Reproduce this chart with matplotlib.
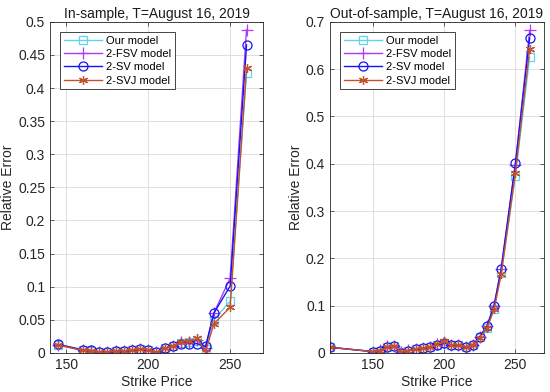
import matplotlib
matplotlib.use("Agg")
import matplotlib.pyplot as plt
from matplotlib.ticker import FuncFormatter

plt.rcParams['font.family'] = ['Liberation Sans', 'DejaVu Sans']

# --------------------------------------------------------
# Data
# --------------------------------------------------------
labels = ["Our model", "2-FSV model", "2-SV model", "2-SVJ model"]

strike_in = [145, 160, 165, 170, 175, 180, 185, 190, 195, 200,
             205, 210, 215, 220, 225, 230, 235, 240, 250, 260]
in_ours = [0.012, 0.004, 0.003, 0.001, 0.001, 0.003, 0.003, 0.004, 0.006, 0.005,
           0.001, 0.007, 0.011, 0.015, 0.016, 0.018, 0.006, 0.050, 0.078, 0.422]
in_fsv = [0.012, 0.004, 0.003, 0.001, 0.001, 0.003, 0.003, 0.004, 0.006, 0.005,
          0.001, 0.006, 0.011, 0.016, 0.017, 0.020, 0.008, 0.060, 0.113, 0.488]
in_sv = [0.013, 0.005, 0.004, 0.001, 0.001, 0.003, 0.003, 0.004, 0.006, 0.005,
         0.001, 0.007, 0.011, 0.014, 0.014, 0.014, 0.010, 0.060, 0.101, 0.465]
in_svj = [0.012, 0.004, 0.003, 0.001, 0.001, 0.003, 0.003, 0.004, 0.006, 0.005,
          0.001, 0.007, 0.011, 0.017, 0.018, 0.022, 0.002, 0.044, 0.069, 0.430]

strike_out = [120, 150, 155, 160, 165, 170, 175, 180, 185, 190, 195, 200,
              205, 210, 215, 220, 225, 230, 235, 240, 250, 260]
out_ours = [0.012, 0.003, 0.005, 0.013, 0.014, 0.002, 0.005, 0.008, 0.010, 0.012,
            0.017, 0.022, 0.017, 0.016, 0.013, 0.017, 0.033, 0.053, 0.094, 0.168, 0.375, 0.625]
out_fsv = [0.012, 0.003, 0.006, 0.014, 0.015, 0.002, 0.006, 0.009, 0.010, 0.013,
           0.018, 0.024, 0.017, 0.017, 0.013, 0.017, 0.034, 0.056, 0.099, 0.177, 0.398, 0.682]
out_sv = [0.012, 0.003, 0.005, 0.013, 0.014, 0.001, 0.005, 0.008, 0.010, 0.012,
          0.017, 0.021, 0.017, 0.016, 0.012, 0.017, 0.034, 0.057, 0.100, 0.178, 0.401, 0.666]
out_svj = [0.012, 0.003, 0.005, 0.013, 0.015, 0.002, 0.005, 0.009, 0.010, 0.013,
           0.018, 0.026, 0.017, 0.017, 0.013, 0.017, 0.032, 0.052, 0.092, 0.166, 0.381, 0.643]

colors = ['#5cd6ec', '#b03cf2', '#1414f5', '#c4502c']
markers = ['s', '+', 'o', (6, 2, 0)]
msizes = [5.5, 8, 6.5, 6.5]

# --------------------------------------------------------
# Figure
# --------------------------------------------------------
fig = plt.figure(figsize=(5.5, 3.92), dpi=100)
ax1 = fig.add_axes([0.091, 0.0995, 0.387, 0.845])
ax2 = fig.add_axes([0.600, 0.0995, 0.389, 0.845])

panels = [
    (ax1, strike_in, [in_ours, in_fsv, in_sv, in_svj],
     "In-sample, T=August 16, 2019", (140, 270), (0, 0.5), 0.05),
    (ax2, strike_out, [out_ours, out_fsv, out_sv, out_svj],
     "Out-of-sample, T=August 16, 2019", (120, 270), (0, 0.7), 0.1),
]

fmt = FuncFormatter(lambda v, p: "%g" % round(v, 3))

for ax, x, series, title, xlim, ylim, step in panels:
    for ys, lab, c, m, ms in zip(series, labels, colors, markers, msizes):
        ax.plot(x, ys, color=c, marker=m, markersize=ms, markerfacecolor='none',
                markeredgecolor=c, markeredgewidth=0.9, linewidth=1.0, label=lab)
    ax.set_xlim(*xlim)
    ax.set_ylim(*ylim)
    ax.set_xticks([150, 200, 250])
    n = int(round(ylim[1] / step))
    ax.set_yticks([i * step for i in range(n + 1)])
    ax.yaxis.set_major_formatter(fmt)
    ax.grid(True, color='#d9d9d9', linewidth=0.6)
    ax.set_axisbelow(True)
    ax.tick_params(direction='in', length=3, width=0.5, colors='#262626',
                   labelsize=10, top=True, right=True)
    for sp in ax.spines.values():
        sp.set_color('#262626')
        sp.set_linewidth(0.6)
    ax.set_title(title, fontsize=10, color='#1a1a1a', pad=3)
    ax.set_xlabel("Strike Price", fontsize=10, color='#262626', labelpad=2)
    ax.set_ylabel("Relative Error", fontsize=10, color='#262626', labelpad=2)
    leg = ax.legend(loc='upper left', fontsize=8, handlelength=3.4,
                    labelspacing=0.3, borderpad=0.35, handletextpad=0.4,
                    fancybox=False, framealpha=1, edgecolor='#262626',
                    borderaxespad=0, bbox_to_anchor=(0.047, 0.97))
    leg.get_frame().set_linewidth(0.6)

plt.savefig("out.png", dpi=100)
